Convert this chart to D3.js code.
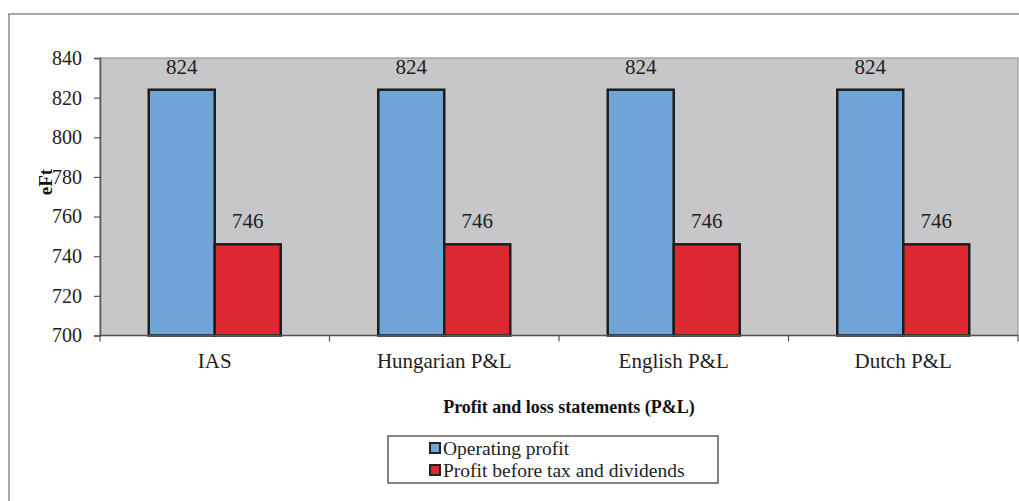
<!DOCTYPE html>
<html>
<head>
<meta charset="utf-8">
<script src="https://cdn.jsdelivr.net/npm/d3@7"></script>
<style>
  body { margin: 0; background: #fff; }
  svg { display: block; font-family: "Liberation Serif", "Times New Roman", serif; }
</style>
</head>
<body>
<svg width="1019" height="501"></svg>
<script>
var categories = ["IAS", "Hungarian P&L", "English P&L", "Dutch P&L"];
var seriesNames = ["Operating profit", "Profit before tax and dividends"];
var operatingProfit = [824, 824, 824, 824];
var profitBeforeTax = [746, 746, 746, 746];
var yTicks = [700, 720, 740, 760, 780, 800, 820, 840];
var colors = ["#6fa4d7", "#dd2731"];

var svg = d3.select("svg");
var plotL = 100, plotR = 1018, plotT = 58, plotB = 335.5;

// outer frame (only top and left edges are visible)
svg.append("path")
  .attr("d", "M9,501 L9,14 L1019,14")
  .attr("fill", "none")
  .attr("stroke", "#8a8a8a")
  .attr("stroke-width", 1.5);

var x = d3.scaleBand().domain(categories).range([plotL, plotR]);
var x1 = d3.scaleBand().domain([0, 1]).range([0, 132]);
var y = d3.scaleLinear().domain([700, 840]).range([plotB, plotT]);

svg.append("rect")
  .attr("x", plotL).attr("y", plotT)
  .attr("width", plotR - plotL).attr("height", plotB - plotT)
  .attr("fill", "#c7c7c9")
  .attr("stroke", "#9a9a9a")
  .attr("stroke-width", 1.2);

var rows = categories.map(function(c, i) {
  return { cat: c, vals: [operatingProfit[i], profitBeforeTax[i]] };
});

var groups = svg.selectAll("g.grp")
  .data(rows)
  .enter()
  .append("g")
    .attr("class", "grp")
    .attr("transform", d => "translate(" + (x(d.cat) + x.bandwidth() / 2 - 66) + ",0)");

groups.selectAll("rect")
  .data(d => d.vals)
  .enter()
  .append("rect")
    .attr("x", (d, i) => x1(i))
    .attr("y", d => y(d))
    .attr("width", x1.bandwidth())
    .attr("height", d => y(700) - y(d))
    .attr("fill", (d, i) => colors[i])
    .attr("stroke", "#1e1e1e")
    .attr("stroke-width", 2.5);

groups.selectAll("text")
  .data(d => d.vals)
  .enter()
  .append("text")
    .attr("x", (d, i) => x1(i) + x1.bandwidth() / 2)
    .attr("y", d => y(d) - 16)
    .attr("text-anchor", "middle")
    .attr("font-size", "21px")
    .attr("fill", "#222")
    .text(d => d);

// y axis
var yAxis = svg.append("g")
  .attr("transform", "translate(" + plotL + ",0)")
  .call(d3.axisLeft(y).tickValues(yTicks).tickSize(6).tickPadding(12));
yAxis.select(".domain").attr("stroke", "#555").attr("stroke-width", 1.5);
yAxis.selectAll(".tick line").attr("stroke", "#555").attr("stroke-width", 1.2);
yAxis.selectAll("text")
  .attr("font-family", "Liberation Serif, serif")
  .attr("font-size", "20px")
  .attr("fill", "#222");

// x axis: ticks between categories
var xAxis = svg.append("g")
  .attr("transform", "translate(0," + plotB + ")");
xAxis.append("line")
  .attr("x1", plotL).attr("x2", plotR)
  .attr("stroke", "#555").attr("stroke-width", 1.5);
xAxis.selectAll("line.tk")
  .data(categories)
  .enter()
  .append("line")
    .attr("class", "tk")
    .attr("x1", d => x(d) + x.bandwidth())
    .attr("x2", d => x(d) + x.bandwidth())
    .attr("y1", 0).attr("y2", 6)
    .attr("stroke", "#555").attr("stroke-width", 1.2);
xAxis.append("line")
  .attr("x1", plotL).attr("x2", plotL)
  .attr("y1", 0).attr("y2", 6)
  .attr("stroke", "#555").attr("stroke-width", 1.2);
xAxis.selectAll("text")
  .data(categories)
  .enter()
  .append("text")
    .attr("x", d => x(d) + x.bandwidth() / 2)
    .attr("y", 32)
    .attr("text-anchor", "middle")
    .attr("font-size", "21px")
    .attr("fill", "#222")
    .text(d => d);

// axis titles
svg.append("text")
  .attr("x", 569)
  .attr("y", 413)
  .attr("text-anchor", "middle")
  .attr("font-size", "18px")
  .attr("font-weight", "bold")
  .attr("fill", "#111")
  .text("Profit and loss statements (P&L)");

svg.append("text")
  .attr("transform", "translate(52,182) rotate(-90)")
  .attr("text-anchor", "middle")
  .attr("font-size", "19px")
  .attr("font-weight", "bold")
  .attr("fill", "#111")
  .text("eFt");

// legend
var legend = svg.append("g");
legend.append("rect")
  .attr("x", 388).attr("y", 436)
  .attr("width", 330).attr("height", 47)
  .attr("fill", "#fff")
  .attr("stroke", "#333")
  .attr("stroke-width", 1.2);
var items = legend.selectAll("g.item")
  .data(seriesNames)
  .enter()
  .append("g")
    .attr("class", "item")
    .attr("transform", (d, i) => "translate(430," + (448 + i * 22) + ")");
items.append("rect")
  .attr("x", 0).attr("y", -5)
  .attr("width", 10).attr("height", 10)
  .attr("fill", (d, i) => colors[i])
  .attr("stroke", "#222")
  .attr("stroke-width", 2);
items.append("text")
  .attr("x", 13).attr("y", 7)
  .attr("font-size", "19.5px")
  .attr("fill", "#222")
  .text(d => d);
</script>
</body>
</html>
